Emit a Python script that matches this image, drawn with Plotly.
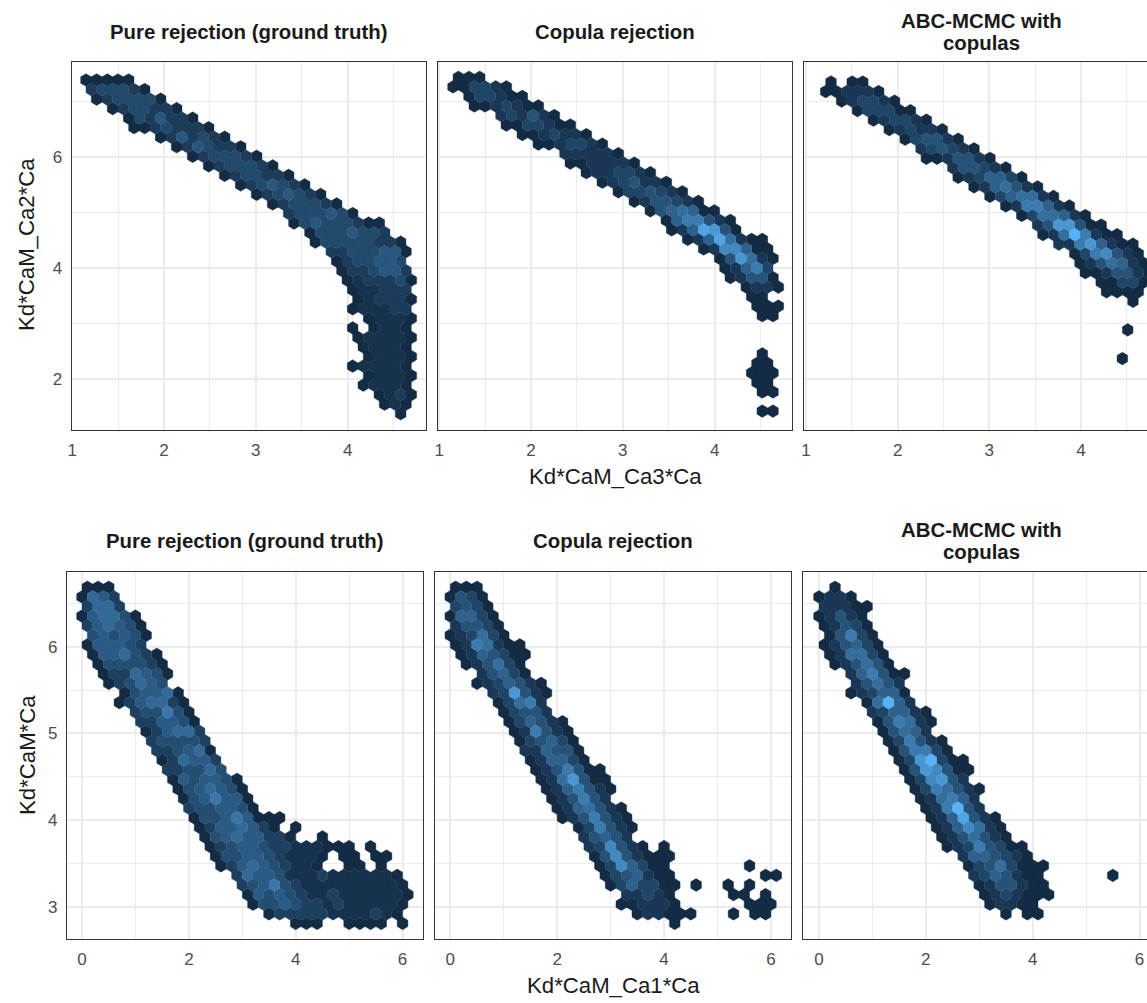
import plotly.graph_objects as go

# Hexbin cell shades per row, in scaled count units (0 to 10). -1 marks an empty cell in a row.
ca3_pure_first = [0,0,1,2,4,4,7,8,10,11,13,14,16,17,19,19,21,21,23,23,24,24,25,25,25,26,25,25,26,26,25,26,26,27,28,29]
ca3_pure_counts = [
 [0,0,0,0,0],[1,2,2,2,1,0],[0,1,2,2,2,2,0],[0,1,2,2,1,1,0],[0,2,1,3,1,1,0],[0,0,1,2,1,1,1,0],
 [0,1,3,1,2,1,0],[0,1,3,2,1,1,0],[0,1,2,2,2,1,0],[0,1,2,2,2,1,0],[0,1,2,2,1,1,0],[0,1,2,3,2,1,0],
 [0,1,2,3,2,1,0],[0,1,2,2,2,1,0],[1,2,2,2,3,2,0],[0,2,3,2,2,2,1,0,0],[0,2,2,2,3,2,2,1],[0,2,2,2,2,2,1,1,0],
 [1,1,2,2,2,3,3,0],[0,1,2,2,3,3,2],[0,1,1,2,3,3,1],[0,0.5,1,1,1,2,0],[0,0.5,0.5,1,1,1],[0,0.5,1,1,1,0],
 [0,0.5,0.5,0.5,1,1],[0,0.5,0.5,0.5,0],[0,-1,0,0.5,0.5,0],[0,0.5,0.5,0.5,0.5,0],[0,0.5,0.5,0.5,0],[0,0.5,0.5,0.5,0],
 [0,0.5,0.5,0.5,0.5,0],[0,0.5,0.5,0.5,0],[0,0.5,0.5,0.5,0],[0,0.5,1,0],[0,0.5,0],[0]]

ca3_copula_first = [0,0,1,2,4,5,6,8,10,11,12,14,15,17,18,20,20,22,23,25,25,26,27,28,28,29,0,0,0,29,28,28,28,29,0,29]
ca3_copula_counts = [
 [0,0,0],[0,0,2,2,1,0],[0,2,2,1,0,0],[0,0,1,2,1,0,0],[1,2,1,3,1,0],[0,0,2,2,1,0,0],
 [0,0,1,2,1,1,0],[0,0,1,2,2,1,0],[1,1,1,1,1,0],[0,0,1,1,1,1,0],[0,1,1,2,2,1,0],[0,1,2,3,1,1,0],
 [0,2,2,3,2,1,0],[0,1,3,3,2,1,0],[0,3,4,5,4,0,0],[0,4,6,6,3,1,0],[0,1,4,9,8,3,0],[0,1,4,9,5,1,0,0],
 [0,1,7,7,4,0,0],[0,3,8,5,1,0],[0,1,4,6,2],[0,1,3,3,0],[0,1,1,0],[0,0],
 [0,0,0],[0,0],[],[],[],[0],
 [0,0],[0,0,0],[0,0],[0,0],[],[0,0]]

ca3_abc_first = [0,0,1,3,4,6,7,9,9,12,12,14,15,17,18,20,20,22,23,24,24,26,26,29,0,0,28,0,0,28]
ca3_abc_counts = [
 [0,-1,0,0],[0,0,1,1,1,0],[0,1,2,2,1,0],[0,2,2,2,0,0],[0,1,2,2,1,0],[0,1,2,1,1,0],
 [0,2,3,3,1,0],[1,2,3,2,1,0],[0,0,1,3,3,1,0],[1,3,3,2,1,0],[0,1,2,4,4,2,0],[0,1,4,5,3,1,0],
 [0,2,4,5,5,1,0],[0,1,6,6,4,1,0],[0,2,5,5,4,1,0],[1,3,8,8,3,0,0],[0,1,5,10,6,1,0,0],[1,1,6,8,4,1,0,0],
 [0,2,6,7,3,1,0],[0,1,3,5,4,1,0],[0,0,1,3,3,1,0],[0,0,2,2,0],[0,0,0,0],[0],
 [],[],[0],[],[],[0]]

ca1_pure_first = [0,0,0,0,0,1,0,1,1,2,2,4,3,5,5,6,6,7,7,8,8,9,9,10,10,11,11,12,12,13,14,15,15,16,17,20]
ca1_pure_counts = [
 [0,0,0],[0,4,3,1],[1,4,4,1],[0,3,4,4,2,0],[1,3,4,3,2,0],[2,3,2,3,2,0],
 [0,3,3,3,2,1],[0,3,3,4,2,1,0],[0,2,2,2,2,1,0],[0,1,1,4,3,2,0],[0,1,2,4,3,2],[0,2,3,3,4,0],
 [0,1,3,4,4,1,0],[1,2,2,5,2,0],[1,1,3,3,2,0],[0,1,3,4,4,1],[1,2,2,2,2,1],[1,1,2,3,4,0],
 [0,1,4,3,3,1],[1,1,2,2,4,2],[0,3,2,3,3,2,0],[0,2,3,4,3,2,0],[0,2,3,5,3,3,0],[1,2,2,3,3,2,0],
 [0,2,2,3,5,3,0,0,0],[0,1,3,3,4,3,1,0,-1,0],[0,2,3,4,3,3,1,1,0,-1,-1,0],
 [0,1,2,3,3,2,1,1,0.5,0.5,0.5,0,0,0,-1,0],[0,2,2,3,3,2,1,0.5,0.5,0.5,0,-1,0,0,-1,0,0],
 [0,1,3,4,3,2,1,0.5,0.5,0,-1,-1,0,0,-1,0],[1,4,3,3,2,0.5,0.5,0.5,1,0.5,0.5,0.5,0.5,0.5,0.5,0],
 [1,2,3,5,2,1,0.5,0.5,0.5,0.5,0.5,0.5,0.5,0.5,0.5,0],[0,3,2,3,2,1,0.5,0.5,1,0.5,0.5,0.5,0.5,0.5,0.5,0],
 [0,2,2,3,2,1,1,0.5,1,0.5,0.5,0.5,0.5,0.5,0],[0,1,1,1,1,1,0.5,0.5,0.5,0.5,1,0.5,0],[0,0,0,-1,-1,0,0,0,0,-1,0]]

ca1_copula_first = [0,0,0,0,0,0,0,1,1,3,2,4,4,5,5,6,6,7,7,8,8,9,9,10,10,12,12,13,13,14,14,15,16,16,17,21]
ca1_copula_counts = [
 [0,0,0],[0,3,2,0],[2,3,2,0],[0,4,4,2,0],[1,3,3,2,0],[0,1,2,5,2,0],
 [0,1,6,5,1,0,0],[0,1,4,3,2,0,0],[0,1,3,5,2,0],[1,3,4,2,0],[0,1,2,4,3,1,0],[1,2,8,3,1,0],
 [0,2,5,6,1],[0,2,3,3,1],[0,2,4,3,1,0],[0,1,6,3,1,0],[0,2,3,4,2,0],[1,1,4,3,3,0],
 [0,1,4,4,2,0],[0,1,3,6,3,0,0],[0,1,5,8,3,0,0],[0,1,4,6,3,1,0],[0,1,3,6,3,1],[0,1,4,5,3,1,0],
 [0,1,3,6,3,1,0],[0,2,6,3,1,0],[1,3,4,3,1],[1,2,7,3,1,0,-1,0],[0,3,7,3,1,0,0,0],
 [0,2,7,4,2,0,0,-1,-1,-1,-1,-1,-1,-1,0],[0,2,3,4,1,0,0,-1,-1,-1,-1,-1,-1,-1,-1,0,0],
 [0,2,4,2,2,0,0,-1,0,-1,-1,0,-1,0],[1,1,2,1,0,-1,-1,-1,-1,-1,0,0,-1,0],
 [0,0,1,1,1,0,-1,-1,-1,-1,-1,-1,0,0,0],[0,1,1,0,0,0,-1,-1,-1,0,-1,0,0],[0]]

ca1_abc_first = [1,0,0,0,0,1,0,1,1,3,3,3,4,5,5,6,6,7,7,8,8,9,9,10,10,11,11,12,13,14,14,15,15,16,17]
ca1_abc_counts = [
 [0],[0,1,1,0],[1,1,1,0,0],[0,1,3,1,0],[0,1,3,2,0],[0,3,6,2,0],
 [0,1,3,4,2,0],[0,1,5,5,2,0],[0,1,3,5,3,0],[1,4,6,3,0,0],[1,3,5,3,1],[0,1,2,4,4,0],
 [0,5,10,4,1],[1,2,4,4,1,0],[0,3,6,5,1,0],[0,3,5,4,1],[0,2,6,3,1,0],[0,3,6,6,2,0],
 [0,2,8,10,2,0,0],[0,3,8,7,3,0,0],[0,2,7,8,3,1],[0,2,6,5,3,1,0],[0,1,5,6,4,1],[0,1,6,10,3,1],
 [0,1,4,9,3,1,0],[0,1,4,7,5,1,0],[0,1,3,5,3,1,0],[0,1,2,6,3,2,0,0],[1,4,4,3,2,1,0],
 [0,2,3,5,2,0,0,0],[1,2,4,3,1,0,0,-1,-1,-1,-1,-1,-1,0],[0,1,3,3,1,0,0],[0,1,2,1,0,0,0],
 [0,1,1,0,0],[0,-1,0,0]]

title_pure, title_copula = "Pure rejection (ground truth)", "Copula rejection"
title_abc_line1, title_abc_line2 = "ABC-MCMC with", "copulas"
top_x_title, top_y_title = "Kd*CaM_Ca3*Ca", "Kd*CaM_Ca2*Ca"
bottom_x_title, bottom_y_title = "Kd*CaM_Ca1*Ca", "Kd*CaM*Ca"

top_x_ticks, top_x_minor = [1, 2, 3, 4], [1.5, 2.5, 3.5, 4.5]
top_y_ticks, top_y_minor = [2, 4, 6], [3, 5, 7]
bottom_x_ticks, bottom_x_minor = [0, 2, 4, 6], [1, 3, 5]
bottom_y_ticks, bottom_y_minor = [3, 4, 5, 6], [3.5, 4.5, 5.5, 6.5]

W, H = 1147, 1003
panels = [
 dict(first=ca3_pure_first, counts=ca3_pure_counts, even=1.1506, odd=1.2087, dx=0.11615, y0=7.387, dy=0.1718, lift=0.3,
      px=(71.7, 425.7), py=(61.7, 430), xr=[0.995, 4.85], yr=[1.081, 7.717], xt=top_x_ticks, xm=top_x_minor, yt=top_y_ticks, ym=top_y_minor),
 dict(first=ca3_copula_first, counts=ca3_copula_counts, even=1.2087, odd=1.1506, dx=0.11615, y0=7.435, dy=0.1718, lift=0,
      px=(438, 792), py=(61.7, 430), xr=[0.987, 4.842], yr=[1.081, 7.717], xt=top_x_ticks, xm=top_x_minor, yt=top_y_ticks, ym=top_y_minor),
 dict(first=ca3_abc_first, counts=ca3_abc_counts, even=1.2727, odd=1.2145, dx=0.1156, y0=7.351, dy=0.1718, lift=0,
      px=(804, 1147), py=(61.7, 430), xr=[0.978, 4.72], yr=[1.081, 7.717], xt=top_x_ticks, xm=top_x_minor, yt=top_y_ticks, ym=top_y_minor),
 dict(first=ca1_pure_first, counts=ca1_pure_counts, even=0.1, odd=0.0, dx=0.2, y0=6.685, dy=0.1108, lift=0.6,
      px=(67, 422.7), py=(571.7, 939), xr=[-0.281, 6.377], yr=[2.627, 6.865], xt=bottom_x_ticks, xm=bottom_x_minor, yt=bottom_y_ticks, ym=bottom_y_minor),
 dict(first=ca1_copula_first, counts=ca1_copula_counts, even=0.1, odd=0.0, dx=0.2, y0=6.685, dy=0.1108, lift=0,
      px=(434.7, 790.7), py=(571.7, 939), xr=[-0.292, 6.37], yr=[2.627, 6.865], xt=bottom_x_ticks, xm=bottom_x_minor, yt=bottom_y_ticks, ym=bottom_y_minor),
 dict(first=ca1_abc_first, counts=ca1_abc_counts, even=0.1, odd=0.0, dx=0.2, y0=6.685, dy=0.1108, lift=0,
      px=(802.7, 1147), py=(571.7, 939), xr=[-0.305, 6.14], yr=[2.627, 6.865], xt=bottom_x_ticks, xm=bottom_x_minor, yt=bottom_y_ticks, ym=bottom_y_minor),
]

GRID, TICK, BORDER, TEXT = "#EBEBEB", "#4D4D4D", "#333333", "#1A1A1A"
FONT = "Liberation Sans, Arial, sans-serif"
LOW, HIGH = (0x13, 0x2B, 0x43), (0x56, 0xB1, 0xF7)

def shade(level):
    t = min(level / 10, 1)
    return "#%02X%02X%02X" % tuple(round(a + (b - a) * t) for a, b in zip(LOW, HIGH))

fig = go.Figure()
layout = {}
for i, p in enumerate(panels):
    suffix = "" if i == 0 else str(i + 1)
    by_level = {}
    for r, (k0, row) in enumerate(zip(p["first"], p["counts"])):
        origin = p["even"] if r % 2 == 0 else p["odd"]
        for j, c in enumerate(row):
            if c >= 0:
                by_level.setdefault(c, []).append((origin + (k0 + j) * p["dx"], p["y0"] - r * p["dy"]))
    hw, q = p["dx"] / 2, p["dy"] / 3
    for level in sorted(by_level):
        xs, ys = [], []
        for cx, cy in by_level[level]:
            xs += [cx, cx + hw, cx + hw, cx, cx - hw, cx - hw, cx, None]
            ys += [cy + 2 * q, cy + q, cy - q, cy - 2 * q, cy - q, cy + q, cy + 2 * q, None]
        colour = shade(level + p["lift"] if level >= 1 else level)
        fig.add_trace(go.Scatter(x=xs, y=ys, mode="lines", xaxis="x" + suffix, yaxis="y" + suffix,
                                 showlegend=False, fill="toself", fillcolor=colour,
                                 line=dict(color=colour, width=0.4), hoverinfo="skip"))
    clipped = p["px"][1] >= W
    layout["xaxis" + suffix] = dict(
        domain=[p["px"][0] / W, p["px"][1] / W], range=p["xr"], anchor="y" + suffix,
        tickmode="array", tickvals=p["xt"], ticks="outside", ticklen=4, tickcolor="rgba(0,0,0,0)",
        tickfont=dict(family=FONT, size=17, color=TICK), showgrid=True, gridcolor=GRID, gridwidth=1.5,
        minor=dict(tickmode="array", tickvals=p["xm"], showgrid=True, gridcolor=GRID, gridwidth=0.8, ticks=""),
        showline=True, linecolor=BORDER, linewidth=1.2, mirror=True, zeroline=False)
    layout["yaxis" + suffix] = dict(
        domain=[1 - p["py"][1] / H, 1 - p["py"][0] / H], range=p["yr"], anchor="x" + suffix,
        tickmode="array", tickvals=p["yt"], ticks="outside" if i % 3 == 0 else "", ticklen=5,
        tickcolor="rgba(0,0,0,0)", showticklabels=i % 3 == 0,
        tickfont=dict(family=FONT, size=17, color=TICK), showgrid=True, gridcolor=GRID, gridwidth=1.5,
        minor=dict(tickmode="array", tickvals=p["ym"], showgrid=True, gridcolor=GRID, gridwidth=0.8, ticks=""),
        showline=True, linecolor=BORDER, linewidth=1.2, mirror=not clipped, zeroline=False)

def note(text, x, y, size, bold=False, angle=0):
    return dict(text=f"<b>{text}</b>" if bold else text, x=x / W, y=1 - y / H, xref="paper", yref="paper",
                xanchor="center", yanchor="middle", showarrow=False, textangle=angle,
                font=dict(family=FONT, size=size, color=TEXT))

annotations = [
    note(title_pure, 248.5, 32, 20.4, True),
    note(title_copula, 615, 32, 20.4, True),
    note(title_abc_line1, 981, 21, 20.4, True),
    note(title_abc_line2, 981, 43, 20.4, True),
    note(title_pure, 244.5, 541, 20.4, True),
    note(title_copula, 612.5, 541, 20.4, True),
    note(title_abc_line1, 981, 530, 20.4, True),
    note(title_abc_line2, 981, 552, 20.4, True),
    note(top_x_title, 615, 477, 22.2),
    note(bottom_x_title, 613, 985, 22.2),
    note(top_y_title, 27, 245, 22.2, angle=-90),
    note(bottom_y_title, 27, 755, 22.2, angle=-90),
]

fig.update_layout(width=W, height=H, autosize=False, margin=dict(l=0, r=0, t=0, b=0, autoexpand=False),
                  paper_bgcolor="white", plot_bgcolor="white", annotations=annotations, **layout)
fig.write_html("out.html", config={"displayModeBar": False},
               post_script="document.body.style.margin='0';document.body.style.overflow='hidden';")
